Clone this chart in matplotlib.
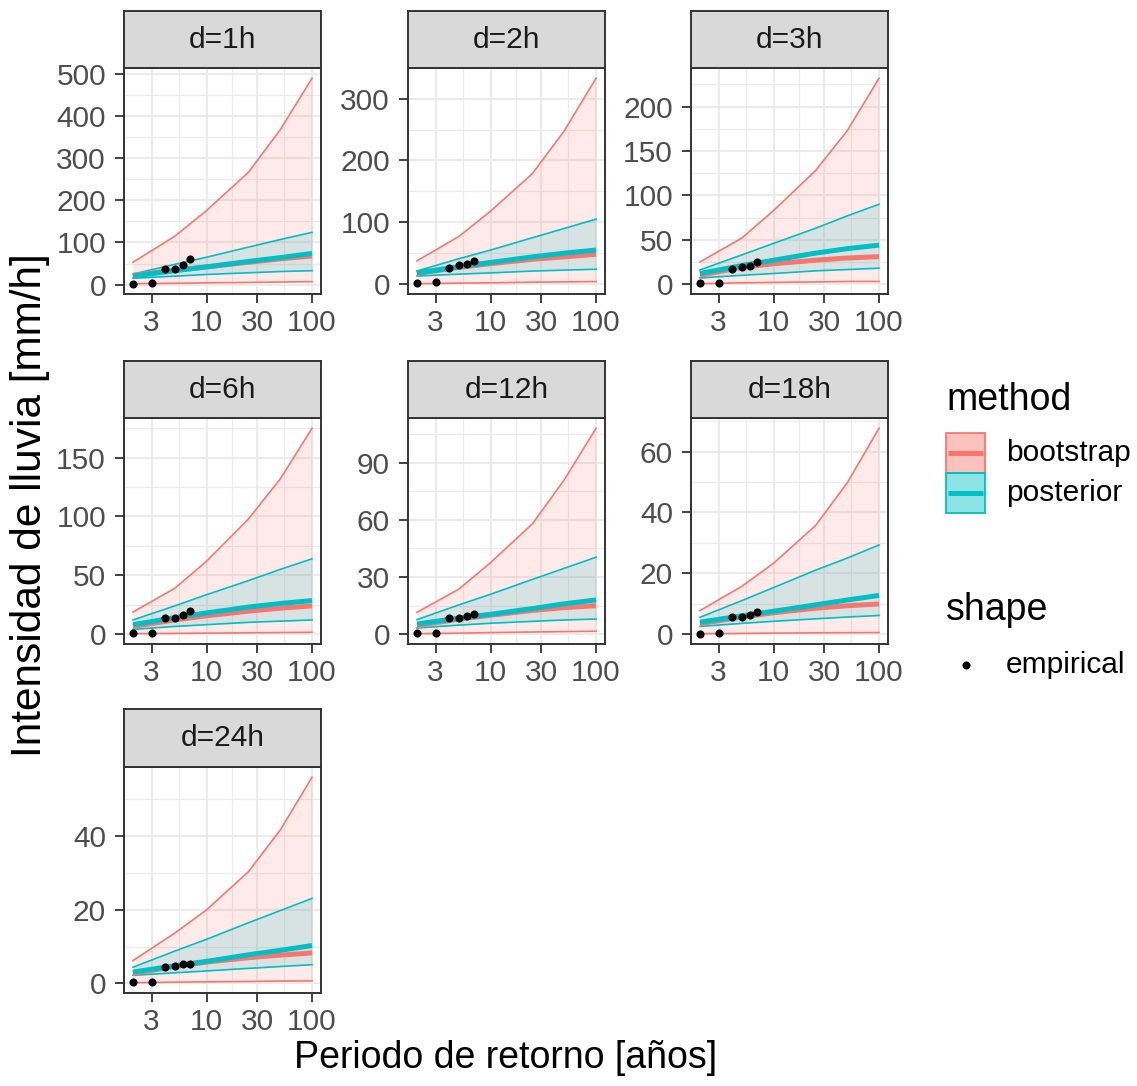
import numpy as np
import matplotlib.pyplot as plt
from matplotlib.patches import Rectangle
from matplotlib.ticker import FixedLocator, MultipleLocator, NullFormatter, FixedFormatter

plt.rcParams['font.family'] = ['Liberation Sans', 'DejaVu Sans']

RED = '#F8766D'
TEAL = '#00BFC4'

durations = ['d=1h', 'd=2h', 'd=3h', 'd=6h', 'd=12h', 'd=18h', 'd=24h']

# return periods of the fitted curves and of the empirical points
T = [2, 5, 10, 25, 50, 100]
T_emp = [2, 3, 4, 5, 6, 7]

# one row per duration, values read at T
boot_up = [
    [53, 115, 176, 267, 368, 490],
    [37.5, 77, 118, 179, 248, 333],
    [25, 52, 83, 128, 173, 232],
    [18.7, 39, 62, 98, 132, 175],
    [11.5, 23.7, 37.6, 58, 81, 108],
    [7.7, 15.7, 23.3, 35.7, 49.8, 67.7],
    [6.2, 13.7, 20, 30.4, 41.7, 56],
]
boot_lo = [
    [2, 3, 4, 5, 6, 7],
    [0.5, 1.5, 2, 3, 3.5, 4],
    [0.5, 1.5, 2, 2.5, 3, 3],
    [0.3, 0.6, 0.8, 1.1, 1.3, 1.5],
    [0.3, 0.6, 0.9, 1.2, 1.4, 1.6],
    [0.1, 0.2, 0.3, 0.4, 0.45, 0.5],
    [0.2, 0.35, 0.45, 0.55, 0.65, 0.7],
]
boot_med = [
    [22, 34, 42, 53, 61, 68],
    [17, 27, 33, 40, 44, 48],
    [10, 19, 23, 27, 29.5, 31],
    [6.5, 12, 15.5, 19.5, 22, 24],
    [4.5, 8, 10, 12.5, 14, 15],
    [3.4, 5.6, 7, 8.5, 9.3, 9.9],
    [2.7, 4.6, 5.8, 7, 7.7, 8.3],
]
post_up = [
    [25, 48, 65, 89, 107, 124],
    [21, 41, 55, 75, 90, 105],
    [16, 33, 46, 63, 77, 90],
    [12, 24, 33.5, 45.5, 55, 64],
    [7.7, 15.4, 21, 28.8, 34.6, 40.4],
    [5.5, 11, 15.3, 21, 25, 29.3],
    [4.4, 8.8, 12, 16.5, 19.8, 23.1],
]
post_med = [
    [20, 33, 42, 55, 64, 74],
    [18, 28, 35, 44, 50, 55],
    [12, 21, 27, 35, 40, 44],
    [8, 14, 18, 23, 26, 28.5],
    [5.4, 8.5, 10.5, 13.5, 16, 18],
    [3.9, 6, 7.5, 9.6, 11.2, 12.7],
    [3.1, 4.8, 6, 7.8, 9, 10.3],
]
post_lo = [
    [15, 20, 24, 28, 31, 33],
    [13, 16, 18, 21, 22.5, 24],
    [7, 10, 12, 15, 16.5, 18],
    [4, 6.5, 8, 10, 11, 12],
    [3.3, 4.8, 5.8, 6.8, 7.5, 8],
    [2.5, 3.5, 4.2, 5, 5.6, 6.1],
    [2.2, 2.9, 3.4, 4.1, 4.6, 5.1],
]
empirical = [
    [2, 4, 36, 37, 47, 61],
    [2, 3, 26, 30, 33, 37.5],
    [1.5, 1.5, 17, 19, 21, 25],
    [1, 1, 14, 14, 16, 20],
    [0.5, 0.5, 8.4, 8.7, 9.7, 10.8],
    [0.1, 0.3, 5.6, 5.5, 6.1, 7.1],
    [0.45, 0.45, 4.4, 4.8, 5.4, 5.4],
]
y_step = [100, 100, 50, 50, 30, 20, 20]

x_breaks = [3, 10, 30, 100]
x_labels = ['3', '10', '30', '100']

W, H = 1137, 1086
fig = plt.figure(figsize=(W / 100, H / 100), dpi=100)


def frac(x0, y0, x1, y1):
    return [x0 / W, 1 - y1 / H, (x1 - x0) / W, (y1 - y0) / H]


cols = [124, 408, 691]
rows = [(11, 68, 294), (361, 418, 644), (709, 767, 993)]
pw = 197
DARK = '#333333'

for i, lab in enumerate(durations):
    r, c = divmod(i, 3)
    x0 = cols[c]
    st, top, bot = rows[r]
    ax = fig.add_axes(frac(x0, top, x0 + pw, bot))
    sax = fig.add_axes(frac(x0, st, x0 + pw, top))

    ax.set_xscale('log')
    ax.fill_between(T, boot_lo[i], boot_up[i], color=RED, alpha=0.15, lw=0)
    ax.plot(T, boot_lo[i], color=RED, lw=1.2)
    ax.plot(T, boot_up[i], color=RED, lw=1.2)
    ax.fill_between(T, post_lo[i], post_up[i], color=TEAL, alpha=0.15, lw=0)
    ax.plot(T, post_lo[i], color=TEAL, lw=1.2)
    ax.plot(T, post_up[i], color=TEAL, lw=1.2)
    ax.plot(T, boot_med[i], color=RED, lw=3.6, solid_capstyle='butt')
    ax.plot(T, post_med[i], color=TEAL, lw=3.6, solid_capstyle='butt')
    ax.scatter(T_emp, empirical[i], s=34, color='black', lw=0, zorder=5)

    ax.use_sticky_edges = False
    ax.margins(0.05)

    ax.xaxis.set_major_locator(FixedLocator(x_breaks))
    ax.xaxis.set_major_formatter(FixedFormatter(x_labels))
    ax.xaxis.set_minor_locator(FixedLocator([np.sqrt(30), np.sqrt(300), np.sqrt(3000)]))
    ax.xaxis.set_minor_formatter(NullFormatter())
    ax.yaxis.set_major_locator(MultipleLocator(y_step[i]))
    ax.yaxis.set_minor_locator(MultipleLocator(y_step[i] / 2))
    ax.yaxis.set_major_formatter(lambda v, p: f'{v:g}')

    ax.grid(which='major', color='#EBEBEB', lw=1.5)
    ax.grid(which='minor', color='#EBEBEB', lw=0.8)
    ax.set_axisbelow(True)
    ax.tick_params(which='major', direction='out', length=6.5, width=1.3, color=DARK,
                   labelcolor='#4D4D4D', labelsize=21.5)
    ax.tick_params(axis='y', which='major', pad=6.5)
    ax.tick_params(axis='x', which='major', pad=4)
    ax.tick_params(which='minor', length=0)
    for s in ax.spines.values():
        s.set_color(DARK)
        s.set_linewidth(1.4)

    sax.set_facecolor('#D9D9D9')
    sax.set_xticks([])
    sax.set_yticks([])
    for s in sax.spines.values():
        s.set_color(DARK)
        s.set_linewidth(1.4)
    sax.text(0.5, 0.5, lab, ha='center', va='center', fontsize=21.5, color='#1A1A1A',
             transform=sax.transAxes)

fig.text(30 / W, 1 - 505 / H, 'Intensidad de lluvia [mm/h]', rotation=90,
         ha='center', va='center', fontsize=30.5)
fig.text(506 / W, 1 - 1058 / H, 'Periodo de retorno [años]',
         ha='center', va='center', fontsize=27)

# legend drawn in pixel coordinates
lax = fig.add_axes([0, 0, 1, 1])
lax.set_xlim(0, W)
lax.set_ylim(H, 0)
lax.axis('off')
lax.text(946, 400, 'method', fontsize=27, va='center', ha='left')
for k, (name, col) in enumerate([('bootstrap', RED), ('posterior', TEAL)]):
    ky = 433 + 40 * k
    lax.add_patch(Rectangle((946, ky), 39, 40, facecolor=col, alpha=0.45, lw=0))
    lax.add_patch(Rectangle((946, ky), 39, 40, facecolor='none', edgecolor=col, lw=1.3))
    lax.plot([948, 983], [ky + 20, ky + 20], color=col, lw=3.6, solid_capstyle='butt')
    lax.text(1006, ky + 20, name, fontsize=21.5, va='center', ha='left')
lax.text(946, 610, 'shape', fontsize=27, va='center', ha='left')
lax.scatter([966], [665], s=34, color='black', lw=0)
lax.text(1006, 665, 'empirical', fontsize=21.5, va='center', ha='left')

fig.savefig('out.png', dpi=100)
